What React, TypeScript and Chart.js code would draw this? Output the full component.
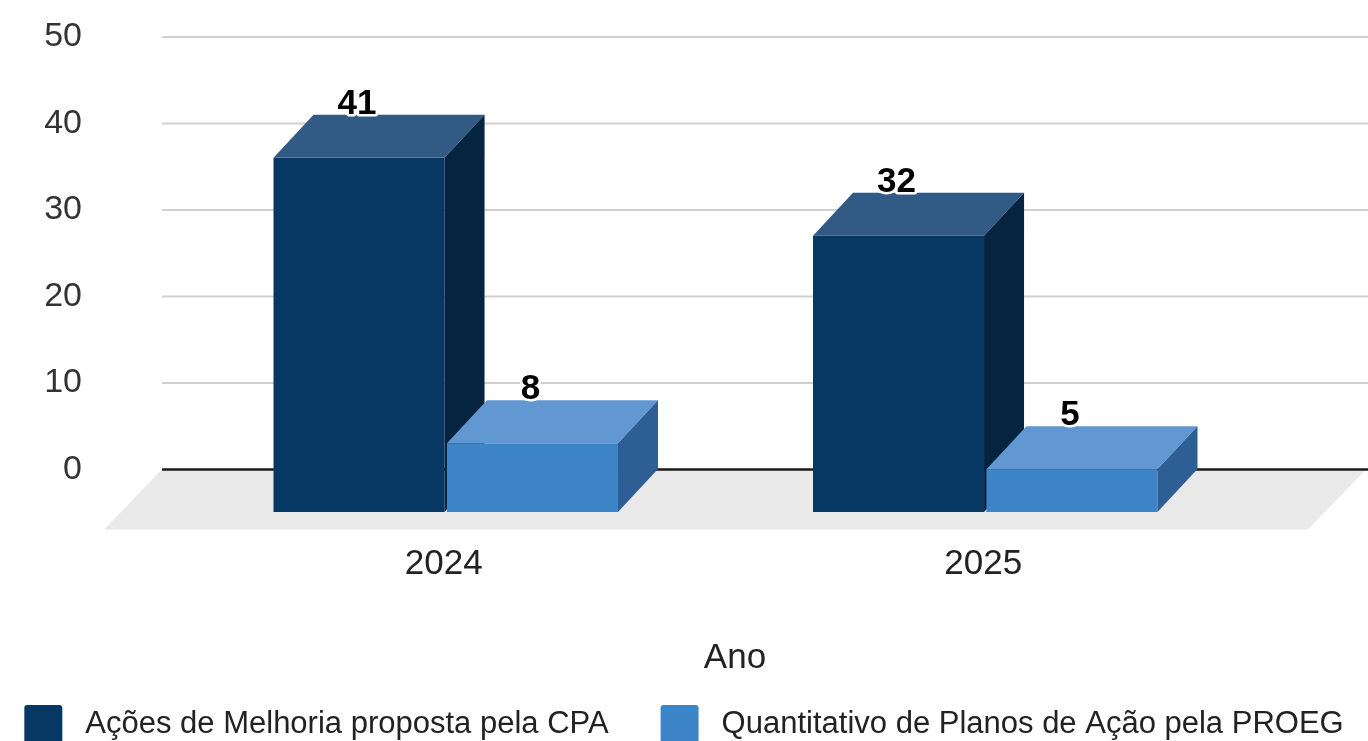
import React, { useEffect, useRef } from "react";
import { Chart, registerables } from "chart.js";

Chart.register(...registerables);

// ---- data ----
const categories = ["2024", "2025"];
const seriesNames = [
  "Ações de Melhoria proposta pela CPA",
  "Quantitativo de Planos de Ação pela PROEG",
];
const cpaValues = [41, 32];
const proegValues = [8, 5];
const yTickValues = [0, 10, 20, 30, 40, 50];
const axisTitle = "Ano";

// ---- styling ----
const FONT = '"Liberation Sans", Arial, Helvetica, sans-serif';
const DX = 40; // 3D depth offset (x)
const DY = 43; // 3D depth offset (y)
const FLOOR_DX = 58;
const FLOOR_DY = 60;
const GRID_LEFT_EXT = 54;
const FLOOR_RIGHT_EXT = 71;
const W = 1368;
const H = 741;

const faceColors = [
  { front: "#073763", top: "#315a85", side: "#05243f" },
  { front: "#3d85c6", top: "#6198d2", side: "#2d5f94" },
];

function drawBox(ctx: CanvasRenderingContext2D, x: number, top: number, base: number, w: number, c: { front: string; top: string; side: string }) {
  const l = x - w / 2;
  const r = x + w / 2;
  ctx.fillStyle = c.front;
  ctx.fillRect(l - DX, top + DY, w, base - top);
  ctx.fillStyle = c.top;
  ctx.beginPath();
  ctx.moveTo(l - DX, top + DY);
  ctx.lineTo(l, top);
  ctx.lineTo(r, top);
  ctx.lineTo(r - DX, top + DY);
  ctx.closePath();
  ctx.fill();
  ctx.fillStyle = c.side;
  ctx.beginPath();
  ctx.moveTo(r - DX, top + DY);
  ctx.lineTo(r, top);
  ctx.lineTo(r, base);
  ctx.lineTo(r - DX, base + DY);
  ctx.closePath();
  ctx.fill();
}

const threeDPlugin = {
  id: "threeD",
  beforeDatasetsDraw(chart: any) {
    const { ctx, chartArea, scales } = chart;
    const y = scales.y;
    const zero = y.getPixelForValue(0);
    const gl = chartArea.left - GRID_LEFT_EXT;
    const gr = chart.width;
    ctx.save();
    // gridlines
    ctx.strokeStyle = "#d0d0d0";
    ctx.lineWidth = 2;
    yTickValues.forEach((v) => {
      if (v === 0) return;
      const py = y.getPixelForValue(v);
      ctx.beginPath();
      ctx.moveTo(gl, py);
      ctx.lineTo(gr, py);
      ctx.stroke();
    });
    // floor
    const fr = chartArea.right + FLOOR_RIGHT_EXT;
    ctx.fillStyle = "#e9e9e9";
    ctx.beginPath();
    ctx.moveTo(gl, zero);
    ctx.lineTo(fr, zero);
    ctx.lineTo(fr - FLOOR_DX, zero + FLOOR_DY);
    ctx.lineTo(gl - FLOOR_DX, zero + FLOOR_DY);
    ctx.closePath();
    ctx.fill();
    // zero line
    ctx.strokeStyle = "#1a1a1a";
    ctx.lineWidth = 2.5;
    ctx.beginPath();
    ctx.moveTo(gl, zero);
    ctx.lineTo(gr, zero);
    ctx.stroke();
    // bars
    const n = chart.data.labels.length;
    for (let j = 0; j < n; j++) {
      chart.data.datasets.forEach((_ds: any, i: number) => {
        const el = chart.getDatasetMeta(i).data[j];
        const p = el.getProps(["x", "y", "base", "width"], true);
        drawBox(ctx, p.x, p.y, p.base, p.width, faceColors[i]);
      });
    }
    // value labels
    ctx.font = `bold 35px ${FONT}`;
    ctx.textAlign = "center";
    ctx.textBaseline = "alphabetic";
    ctx.lineJoin = "round";
    chart.data.datasets.forEach((ds: any, i: number) => {
      chart.getDatasetMeta(i).data.forEach((el: any, j: number) => {
        const p = el.getProps(["x", "y"], true);
        const txt = String(ds.data[j]);
        const tx = p.x - DX - 2;
        const ty = p.y - 1;
        ctx.strokeStyle = "#ffffff";
        ctx.lineWidth = 5;
        ctx.strokeText(txt, tx, ty);
        ctx.fillStyle = "#000000";
        ctx.fillText(txt, tx, ty);
      });
    });
    ctx.restore();
    return false;
  },
  afterDraw(chart: any) {
    const { ctx, chartArea, scales } = chart;
    const zero = scales.y.getPixelForValue(0);
    ctx.save();
    // axis title
    const left = chartArea.left - GRID_LEFT_EXT - FLOOR_DX;
    const right = chartArea.right + FLOOR_RIGHT_EXT;
    ctx.font = `35px ${FONT}`;
    ctx.fillStyle = "#222222";
    ctx.textAlign = "center";
    ctx.textBaseline = "middle";
    ctx.fillText(axisTitle, (left + right) / 2, zero + 188.5);
    // legend
    ctx.font = `31px ${FONT}`;
    const box = 38;
    const gapText = 23;
    const gapItem = 52;
    const widths = seriesNames.map((s) => ctx.measureText(s).width);
    const total = widths.reduce((a, b) => a + b, 0) + seriesNames.length * (box + gapText) + gapItem * (seriesNames.length - 1);
    let x = (chart.width - total) / 2;
    const boxTop = zero + 235.5;
    seriesNames.forEach((s, i) => {
      ctx.fillStyle = faceColors[i].front;
      ctx.beginPath();
      (ctx as any).roundRect(x, boxTop, box, box, 3);
      ctx.fill();
      ctx.fillStyle = "#222222";
      ctx.textAlign = "left";
      ctx.textBaseline = "alphabetic";
      ctx.fillText(s, x + box + gapText, boxTop + 28);
      x += box + gapText + widths[i] + gapItem;
    });
    ctx.restore();
  },
};

export default function App() {
  const ref = useRef<HTMLCanvasElement | null>(null);
  useEffect(() => {
    if (!ref.current) return;
    const chart = new Chart(ref.current, {
      type: "bar",
      data: {
        labels: categories,
        datasets: [
          { label: seriesNames[0], data: cpaValues, backgroundColor: faceColors[0].front, borderWidth: 0 },
          { label: seriesNames[1], data: proegValues, backgroundColor: faceColors[1].front, borderWidth: 0 },
        ],
      },
      options: {
        responsive: false,
        animation: false,
        events: [],
        layout: { padding: { top: 37, right: 73, left: 0, bottom: 0 } },
        datasets: { bar: { categoryPercentage: 0.643, barPercentage: 0.986 } },
        plugins: { legend: { display: false }, tooltip: { enabled: false }, title: { display: false } },
        scales: {
          x: {
            offset: true,
            grid: { display: false, drawTicks: false },
            border: { display: false },
            ticks: { labelOffset: -DX - 2, padding: 74, color: "#222222", font: { family: FONT, size: 35 } },
            afterFit: (s: any) => {
              s.height = H - 469.5;
            },
          },
          y: {
            min: 0,
            max: 50,
            grid: { display: true, drawOnChartArea: false, drawTicks: true, tickLength: 134, color: "rgba(0,0,0,0)" },
            border: { display: false },
            ticks: { stepSize: 10, padding: 0, color: "#333333", font: { family: FONT, size: 34 } },
            afterFit: (s: any) => {
              s.width = 216;
            },
          },
        },
      } as any,
      plugins: [threeDPlugin as any],
    });
    return () => chart.destroy();
  }, []);
  return (
    <div style={{ position: "fixed", left: 0, top: 0, width: W, height: H, background: "#ffffff", overflow: "hidden" }}>
      <canvas ref={ref} width={W} height={H} style={{ display: "block" }} />
    </div>
  );
}
